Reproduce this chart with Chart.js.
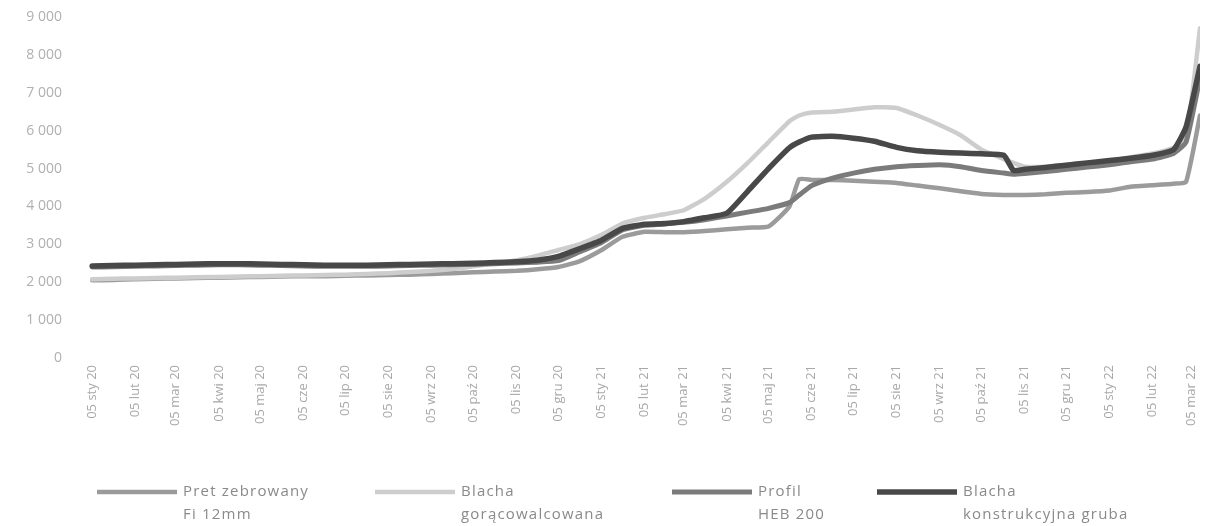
<!DOCTYPE html>
<html>
<head>
<meta charset="utf-8">
<script src="https://cdn.jsdelivr.net/npm/chart.js@4/dist/chart.umd.min.js"></script>
<style>
  body { margin: 0; background: #fff; }
  canvas { display: block; }
</style>
</head>
<body>
<canvas id="chart" width="1208" height="526"></canvas>
<script>
// dni liczone od 05.01.2020
const days = [0, 15, 31, 46, 60, 75, 91, 106, 121, 136, 152, 167, 182, 197, 213, 228, 244, 259, 274, 289,
  305, 320, 335, 350, 366, 381, 397, 412, 425, 440, 456, 471, 486, 501, 508, 517, 532, 547, 562, 578,
  593, 609, 624, 639, 655, 662, 670, 685, 700, 715, 731, 746, 762, 777, 786, 796];

const tickDays = [0, 31, 60, 91, 121, 152, 182, 213, 244, 274, 305, 335, 366, 397, 425, 456, 486, 517,
  547, 578, 609, 639, 670, 700, 731, 762, 790];
const tickLabels = ["05 sty 20", "05 lut 20", "05 mar 20", "05 kwi 20", "05 maj 20", "05 cze 20",
  "05 lip 20", "05 sie 20", "05 wrz 20", "05 paź 20", "05 lis 20", "05 gru 20", "05 sty 21",
  "05 lut 21", "05 mar 21", "05 kwi 21", "05 maj 21", "05 cze 21", "05 lip 21", "05 sie 21",
  "05 wrz 21", "05 paź 21", "05 lis 21", "05 gru 21", "05 sty 22", "05 lut 22", "05 mar 22"];

const yTickLabels = ["0", "1 000", "2 000", "3 000", "4 000", "5 000", "6 000", "7 000", "8 000", "9 000"];

const seriesNames = [["Pret zebrowany", "Fi 12mm"], ["Blacha", "gorącowalcowana"], ["Profil", "HEB 200"],
  ["Blacha", "konstrukcyjna gruba"]];

const pretZebrowany = [2050, 2060, 2080, 2090, 2100, 2110, 2120, 2130, 2140, 2150, 2160, 2160, 2170, 2180,
  2190, 2200, 2220, 2240, 2260, 2280, 2300, 2340, 2400, 2550, 2850, 3200, 3330, 3320, 3320, 3350, 3400,
  3440, 3470, 4000, 4720, 4700, 4700, 4680, 4650, 4620, 4550, 4480, 4400, 4330, 4300, 4300, 4300, 4320,
  4360, 4380, 4420, 4520, 4560, 4600, 4650, 6400];

const blachaGoraca = [2080, 2090, 2100, 2110, 2120, 2130, 2140, 2150, 2160, 2170, 2180, 2190, 2200, 2220,
  2240, 2270, 2300, 2350, 2420, 2500, 2580, 2700, 2850, 3000, 3250, 3550, 3700, 3800, 3900, 4200, 4650,
  5150, 5700, 6250, 6400, 6480, 6500, 6560, 6620, 6600, 6400, 6150, 5880, 5500, 5250, 5150, 5050, 5050,
  5100, 5150, 5200, 5300, 5400, 5550, 5800, 8700];

const profilHeb = [2400, 2410, 2420, 2430, 2440, 2450, 2460, 2460, 2450, 2440, 2430, 2420, 2420, 2420,
  2430, 2440, 2450, 2460, 2470, 2490, 2510, 2530, 2570, 2800, 3050, 3380, 3500, 3540, 3580, 3650, 3750,
  3850, 3950, 4100, 4300, 4550, 4750, 4880, 4980, 5050, 5080, 5100, 5050, 4950, 4880, 4850, 4870, 4920,
  4980, 5040, 5100, 5180, 5250, 5400, 5700, 7400];

const blachaKonstr = [2430, 2440, 2450, 2460, 2470, 2480, 2490, 2490, 2480, 2470, 2460, 2450, 2450, 2450,
  2460, 2470, 2480, 2490, 2500, 2520, 2540, 2580, 2680, 2880, 3110, 3420, 3530, 3550, 3600, 3700, 3820,
  4400, 5000, 5550, 5700, 5830, 5850, 5800, 5720, 5560, 5470, 5430, 5410, 5390, 5350, 4950, 4980, 5030,
  5090, 5150, 5210, 5270, 5350, 5500, 6100, 7700];

const toPoints = arr => days.map((d, i) => ({ x: d, y: arr[i] }));

// legenda w dwóch liniach, jak w oryginale
const legendPlugin = {
  id: 'twoLineLegend',
  afterDraw(chart) {
    const ctx = chart.ctx;
    const startX = [97, 375, 672, 877];
    const y = 492;
    ctx.save();
    chart.data.datasets.forEach((ds, i) => {
      const x0 = startX[i];
      ctx.strokeStyle = ds.borderColor;
      ctx.lineWidth = ds.borderWidth;
      ctx.beginPath();
      ctx.moveTo(x0, y);
      ctx.lineTo(x0 + 80, y);
      ctx.stroke();
      ctx.fillStyle = '#8a8a8a';
      ctx.font = '15px "Open Sans", sans-serif';
      ctx.letterSpacing = '1.2px';
      ctx.textBaseline = 'middle';
      seriesNames[i].forEach((line, j) => {
        ctx.fillText(line, x0 + 86, y + j * 23);
      });
    });
    ctx.restore();
  }
};

new Chart(document.getElementById('chart'), {
  type: 'line',
  data: {
    datasets: [
      { label: seriesNames[0].join(' '), data: toPoints(pretZebrowany), borderColor: '#9b9b9b', borderWidth: 4.5, order: 4 },
      { label: seriesNames[1].join(' '), data: toPoints(blachaGoraca), borderColor: '#cdcdcd', borderWidth: 4.5, order: 3 },
      { label: seriesNames[2].join(' '), data: toPoints(profilHeb), borderColor: '#7b7b7b', borderWidth: 5, order: 2 },
      { label: seriesNames[3].join(' '), data: toPoints(blachaKonstr), borderColor: '#484848', borderWidth: 5.5, order: 1 }
    ]
  },
  options: {
    responsive: false,
    animation: false,
    devicePixelRatio: 1,
    layout: { padding: { top: 17, right: 8, left: 0, bottom: 0 } },
    elements: {
      point: { radius: 0 },
      line: { tension: 0.15, borderCapStyle: 'round', borderJoinStyle: 'round' }
    },
    plugins: {
      legend: { display: false },
      tooltip: { enabled: false }
    },
    scales: {
      x: {
        type: 'linear',
        min: -3,
        max: 796,
        grid: { display: false, drawTicks: false },
        border: { display: false },
        afterBuildTicks: scale => { scale.ticks = tickDays.map(v => ({ value: v })); },
        afterFit: scale => {
          scale.height = 168;
          scale.paddingTop = 0;
          scale.paddingLeft = 0;
          scale.paddingRight = 0;
        },
        ticks: {
          autoSkip: false,
          minRotation: 90,
          maxRotation: 90,
          padding: 7,
          color: '#a8a8a8',
          font: { family: '"Open Sans", sans-serif', size: 13 },
          callback: value => tickLabels[tickDays.indexOf(value)]
        }
      },
      y: {
        min: 0,
        max: 9000,
        grid: { display: false, drawTicks: false },
        border: { display: false },
        afterFit: scale => {
          scale.width = 88;
          scale.paddingTop = 0;
          scale.paddingBottom = 0;
        },
        ticks: {
          stepSize: 1000,
          padding: 26,
          color: '#b0b0b0',
          font: { family: '"Open Sans", sans-serif', size: 14 },
          callback: value => yTickLabels[value / 1000]
        }
      }
    }
  },
  plugins: [legendPlugin]
});
</script>
</body>
</html>
